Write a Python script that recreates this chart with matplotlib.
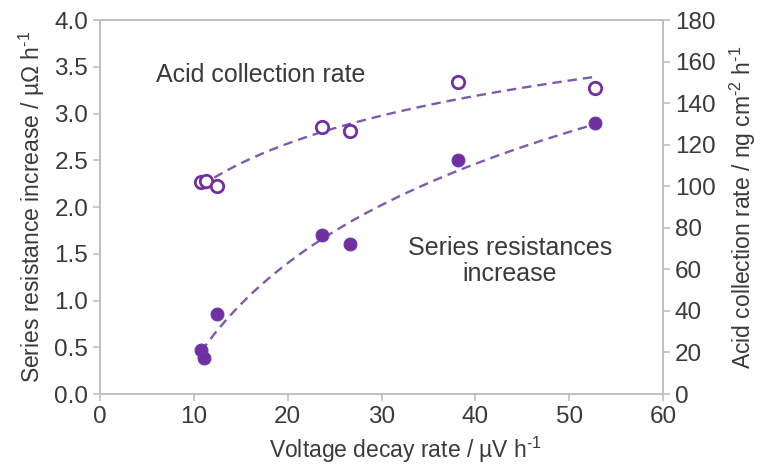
import numpy as np
import matplotlib.pyplot as plt

plt.rcParams['font.family'] = ['Liberation Sans', 'DejaVu Sans']
plt.rcParams['mathtext.fontset'] = 'custom'
plt.rcParams['mathtext.rm'] = 'Liberation Sans'
plt.rcParams['mathtext.it'] = 'Liberation Sans'

# series resistance increase (left axis, uOhm/h)
res_x = [10.8, 11.1, 12.5, 23.7, 26.6, 38.2, 52.8]
res_y = [0.47, 0.38, 0.86, 1.70, 1.60, 2.50, 2.90]

# acid collection rate (right axis, ng cm-2 h-1)
acid_x = [10.8, 11.3, 12.5, 23.7, 26.6, 38.2, 52.8]
acid_y = [102.2, 102.5, 100.2, 128.6, 126.5, 150.3, 147.2]

marker_col = '#7030A0'
line_col = '#7F5AAE'
text_col = '#3A3A3A'
spine_col = '#BFBFBF'

fig = plt.figure(figsize=(7.6, 4.7), dpi=100)
ax1 = fig.add_axes([0.1316, 0.1617, 0.7408, 0.7957])
ax2 = ax1.twinx()

# logarithmic trendlines (as in Excel)
xf = np.linspace(min(res_x), max(res_x), 100)
p_res = np.polyfit(np.log(res_x), res_y, 1)
ax1.plot(xf, np.polyval(p_res, np.log(xf)), ls=(0, (4, 2.5)), color=line_col, lw=1.7)
xf2 = np.linspace(min(acid_x), max(acid_x), 100)
p_acid = np.polyfit(np.log(acid_x), acid_y, 1)
ax2.plot(xf2, np.polyval(p_acid, np.log(xf2)), ls=(0, (4, 2.5)), color=line_col, lw=1.7)

ax1.scatter(res_x, res_y, s=85, color=marker_col, edgecolors='#6A3AB0', linewidths=0.8, zorder=3)
ax2.scatter(acid_x, acid_y, s=80, facecolors='white', edgecolors=marker_col, linewidths=2, zorder=3)

ax1.set_xlim(0, 60)
ax1.set_ylim(0, 4.0)
ax2.set_ylim(0, 180)
ax1.set_xticks(np.arange(0, 61, 10))
ax1.set_yticks(np.arange(0, 4.01, 0.5))
ax1.set_yticklabels([f'{v:.1f}' for v in np.arange(0, 4.01, 0.5)])
ax2.set_yticks(np.arange(0, 181, 20))

for ax in (ax1, ax2):
    for s in ax.spines.values():
        s.set_color(spine_col)
        s.set_linewidth(1.2)
    ax.tick_params(colors=spine_col, labelcolor=text_col, labelsize=17.5, length=5, width=1.2)

ax1.set_xlabel(r'Voltage decay rate / µV h$^{\text{-1}}$', fontsize=16.5, color=text_col)
ax1.xaxis.set_label_coords(0.542, -0.11)
ax1.set_ylabel(r'Series resistance increase / µΩ h$^{\text{-1}}$', fontsize=16.5, color=text_col, labelpad=5)
ax2.set_ylabel(r'Acid collection rate / ng cm$^{\text{-2}}$ h$^{\text{-1}}$', fontsize=16.5,
               color=text_col, labelpad=9)

ax1.text(17.1, 3.41, 'Acid collection rate', fontsize=18, color=text_col, ha='center', va='center')
ax1.text(43.7, 1.42, 'Series resistances\nincrease', fontsize=18, color=text_col,
         ha='center', va='center', linespacing=1.1)

fig.savefig('out.png', dpi=100)
